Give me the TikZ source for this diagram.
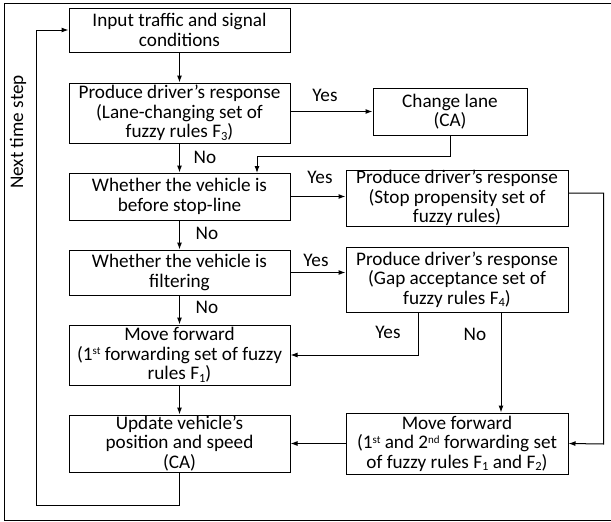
\documentclass[tikz,border=0pt]{standalone}
\usepackage{fontspec}
\setmainfont{Carlito}
\usetikzlibrary{arrows.meta,calc}
\newcommand\mysup[1]{\raisebox{5.5pt}{\fontsize{11}{11}\selectfont #1}}
\newcommand\mysub[1]{\raisebox{-2.5pt}{\fontsize{12.5}{12.5}\selectfont #1}}
\begin{document}
\begin{tikzpicture}[x=1pt,y=-1pt,
  box/.style={draw,line width=1pt,align=center,inner sep=0pt,font=\fontsize{19.2}{19.6}\selectfont},
  arr/.style={line width=1pt,-{Latex[length=7pt,width=5pt]}},
  lab/.style={font=\fontsize{19.2}{19.6}\selectfont}]
\useasboundingbox (0,0) rectangle (611,522);
\draw[line width=1pt] (616,3.5) -- (4,3.5) -- (4,520) -- (616,520);
\node[box,minimum width=221pt,minimum height=44pt] (b1) at (179.5,30) {Input traffic and signal\\conditions};
\node[box,minimum width=221pt,minimum height=60pt] (b2) at (179.5,113) {Produce driver’s response\\(Lane-changing set of\\fuzzy rules F\mysub{3})};
\node[box,minimum width=221pt,minimum height=47pt] (b3) at (179.5,196.5) {Whether the vehicle is\\before stop-line};
\node[box,minimum width=221pt,minimum height=45pt] (b4) at (179.5,272.5) {Whether the vehicle is\\filtering};
\node[box,minimum width=221pt,minimum height=60pt] (b5) at (179.5,355) {Move forward\\(1\mysup{st} forwarding set of fuzzy\\rules F\mysub{1})};
\node[box,minimum width=221pt,minimum height=57pt] (b6) at (179.5,443.5) {Update vehicle’s\\position and speed\\(CA)};
\node[box,minimum width=154pt,minimum height=47pt] (cl) at (450,111.5) {Change lane\\(CA)};
\node[box,minimum width=222pt,minimum height=56pt] (sp) at (457,198) {Produce driver’s response\\(Stop propensity set of\\fuzzy rules)};
\node[box,minimum width=222pt,minimum height=65pt] (ga) at (457,279.5) {Produce driver’s response\\(Gap acceptance set of\\fuzzy rules F\mysub{4})};
\node[box,minimum width=222pt,minimum height=61pt] (mf) at (457,443.5) {Move forward\\(1\mysup{st} and 2\mysup{nd} forwarding set\\of fuzzy rules F\mysub{1} and F\mysub{2})};
\node[lab,rotate=90] (nts) at (18,132) {Next time step};
% connectors
\draw[arr] (b1) -- (b2);
\draw[arr] (b2) -- (b3);
\draw[arr] (b3) -- (b4);
\draw[arr] (b4) -- (b5);
\draw[arr] (b5) -- (b6);
\draw[arr] (b2.east |- cl.west) -- (cl.west);
\draw[arr] (cl.south) |- (257,156) -- (257,173);
\draw[arr] (b3.east) -- (sp.west |- b3.east);
\draw[arr] (b4.east) -- (ga.west |- b4.east);
\draw[arr] (418,312) |- (b5.east);
\draw[arr] (501,312) -- (mf.north -| 501,0);
\draw[arr] (sp.east |- 0,193) -| (603.5,444) -- (mf.east);
\draw[arr] (mf.west) -- (b6.east);
\draw[arr] (b6.south) |- (36,505) |- (b1.west);
% labels
\node[lab] (y1) at (325,95) {Yes};
\node[lab] (n1) at (205,157) {No};
\node[lab] (y2) at (320,177) {Yes};
\node[lab] (n2) at (207,233) {No};
\node[lab] (y3) at (316,260) {Yes};
\node[lab] (n3) at (207,307) {No};
\node[lab] (y4) at (388,332) {Yes};
\node[lab] (n4) at (475,334) {No};
\end{tikzpicture}
\end{document}
